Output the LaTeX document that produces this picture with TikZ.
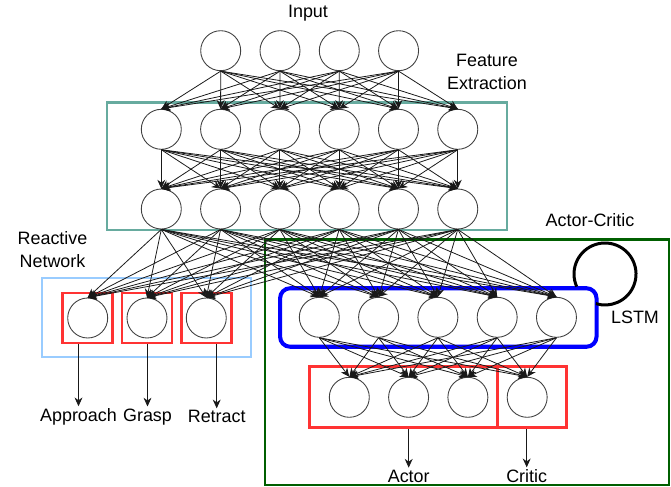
\documentclass[tikz,border=0pt]{standalone}
\usepackage{fontspec}
\setmainfont{Liberation Sans}
\usepackage{tikz}
\usetikzlibrary{positioning, arrows, arrows.meta}
\definecolor{featteal}{HTML}{67AB9F}
\definecolor{reactblue}{HTML}{99CCFF}
\definecolor{boxred}{HTML}{FF3333}
\definecolor{acgreen}{HTML}{005F00}
\tikzset{
	>={Stealth[length=5pt, width=4.5pt]}, % small filled arrow heads
	node distance=1.186cm, % centre to centre distance of two neurons in a row
	neuron/.style={circle, draw=black!75, fill=white, minimum size=0.8cm, inner sep=0pt, line width=0.5pt}, % one unit of a layer
	link/.style={->, black!90, line width=0.45pt}, % weights between layers
	lbl/.style={inner sep=1pt, align=center}, % texts
	tealbox/.style={draw=featteal, line width=1.2pt},
	lightbox/.style={draw=reactblue, line width=1.3pt},
	redbox/.style={draw=boxred, line width=1.6pt},
	lstmbox/.style={draw=blue, line width=2.3pt, rounded corners=0.2cm},
	greenbox/.style={draw=acgreen, line width=1.2pt},
}
\begin{document}
\begin{tikzpicture}[x=0.02cm, y=-0.02cm, font=\fontsize{10.2pt}{13pt}\selectfont]
	\useasboundingbox (0,0) rectangle (671,486);
	% group boxes
	\node[tealbox, minimum width=8cm, minimum height=2.55cm] (featbox) at (307.3,166.2) {};
	\node[lightbox, minimum width=4.17cm, minimum height=1.58cm] (reactbox) at (146.5,317.8) {};
	\node[greenbox, minimum width=8.09cm, minimum height=4.91cm] (acbox) at (467.2,362.2) {};
	\node[lstmbox, minimum width=6.33cm, minimum height=1.17cm] (lstm) at (438.3,317.5) {};
	\node[redbox, minimum width=3.76cm, minimum height=1.22cm] (actorbox) at (403.3,397.2) {};
	\node[redbox, minimum width=1.39cm, minimum height=1.22cm] (criticbox) at (532,397.2) {};

	% layers
	\node[neuron] (in1) at (220.7,50.7) {};
	\foreach \i [remember=\i as \j (initially 1)] in {2,...,4}
		\node[neuron, right of=in\j] (in\i) {};
	\node[neuron] (fa1) at (161.3,129.3) {};
	\node[neuron] (fb1) at (161.3,209) {};
	\foreach \i [remember=\i as \j (initially 1)] in {2,...,6} {
		\node[neuron, right of=fa\j] (fa\i) {};
		\node[neuron, right of=fb\j] (fb\i) {};
	}
	\node[neuron] (re1) at (87.7,318) {};
	\foreach \i [remember=\i as \j (initially 1)] in {2,3}
		\node[neuron, right of=re\j] (re\i) {};
	\foreach \i in {1,...,3}
		\node[redbox, minimum size=1cm] (rbox\i) at (re\i) {};
	\node[neuron] (ls1) at (319.3,317.3) {};
	\foreach \i [remember=\i as \j (initially 1)] in {2,...,5}
		\node[neuron, right of=ls\j] (ls\i) {};
	\node[neuron] (out1) at (349.3,397.3) {};
	\foreach \i [remember=\i as \j (initially 1)] in {2,...,4}
		\node[neuron, right of=out\j] (out\i) {};

	% texts
	\node[lbl] (input) at (308,12.7) {Input};
	\node[lbl] (feat) at (487,71.7) {Feature\\Extraction};
	\node[lbl] (react) at (52.5,250) {Reactive\\Network};
	\node[lbl] (ac) at (590,220) {Actor-Critic};
	\node[lbl] (lstmtext) at (635,317.5) {LSTM};
	\node[lbl] (appr) at (78.5,416.7) {Approach};
	\node[lbl] (grasp) at (147.5,416.7) {Grasp};
	\node[lbl] (retr) at (216.7,416.7) {Retract};
	\node[lbl] (actor) at (408.7,476) {Actor};
	\node[lbl] (critic) at (526.7,476) {Critic};

	% weights
	\foreach \i in {1,...,4}
		\foreach \j in {1,...,6}
			\draw[link] (in\i.south) -- (fa\j.north);
	\foreach \i in {1,...,6} {
		\foreach \j in {1,...,6}
			\draw[link] (fa\i.south) -- (fb\j.north);
		\foreach \j in {1,...,3}
			\draw[link] (fb\i.south) -- (re\j.north);
		\foreach \j in {1,...,5}
			\draw[link] (fb\i.south) -- (ls\j.north);
	}
	\foreach \i in {1,...,5}
		\foreach \j in {1,...,4}
			\draw[link] (ls\i.south) -- (out\j.north);

	% outputs
	\draw[link] (appr |- rbox1.south) -- (appr.north);
	\draw[link] (grasp |- rbox2.south) -- (grasp.north);
	\draw[link] (retr |- rbox3.south) -- (retr.north);
	\draw[link] (actor |- actorbox.south) -- (actor.north);
	\draw[link] (critic |- criticbox.south) -- (critic.north);

	% recurrent loop of the LSTM
	\coordinate (loopc) at (605,274);
	\draw[line width=1.7pt] (loopc) ++(156:31) arc (156:467:31);
\end{tikzpicture}
\end{document}
